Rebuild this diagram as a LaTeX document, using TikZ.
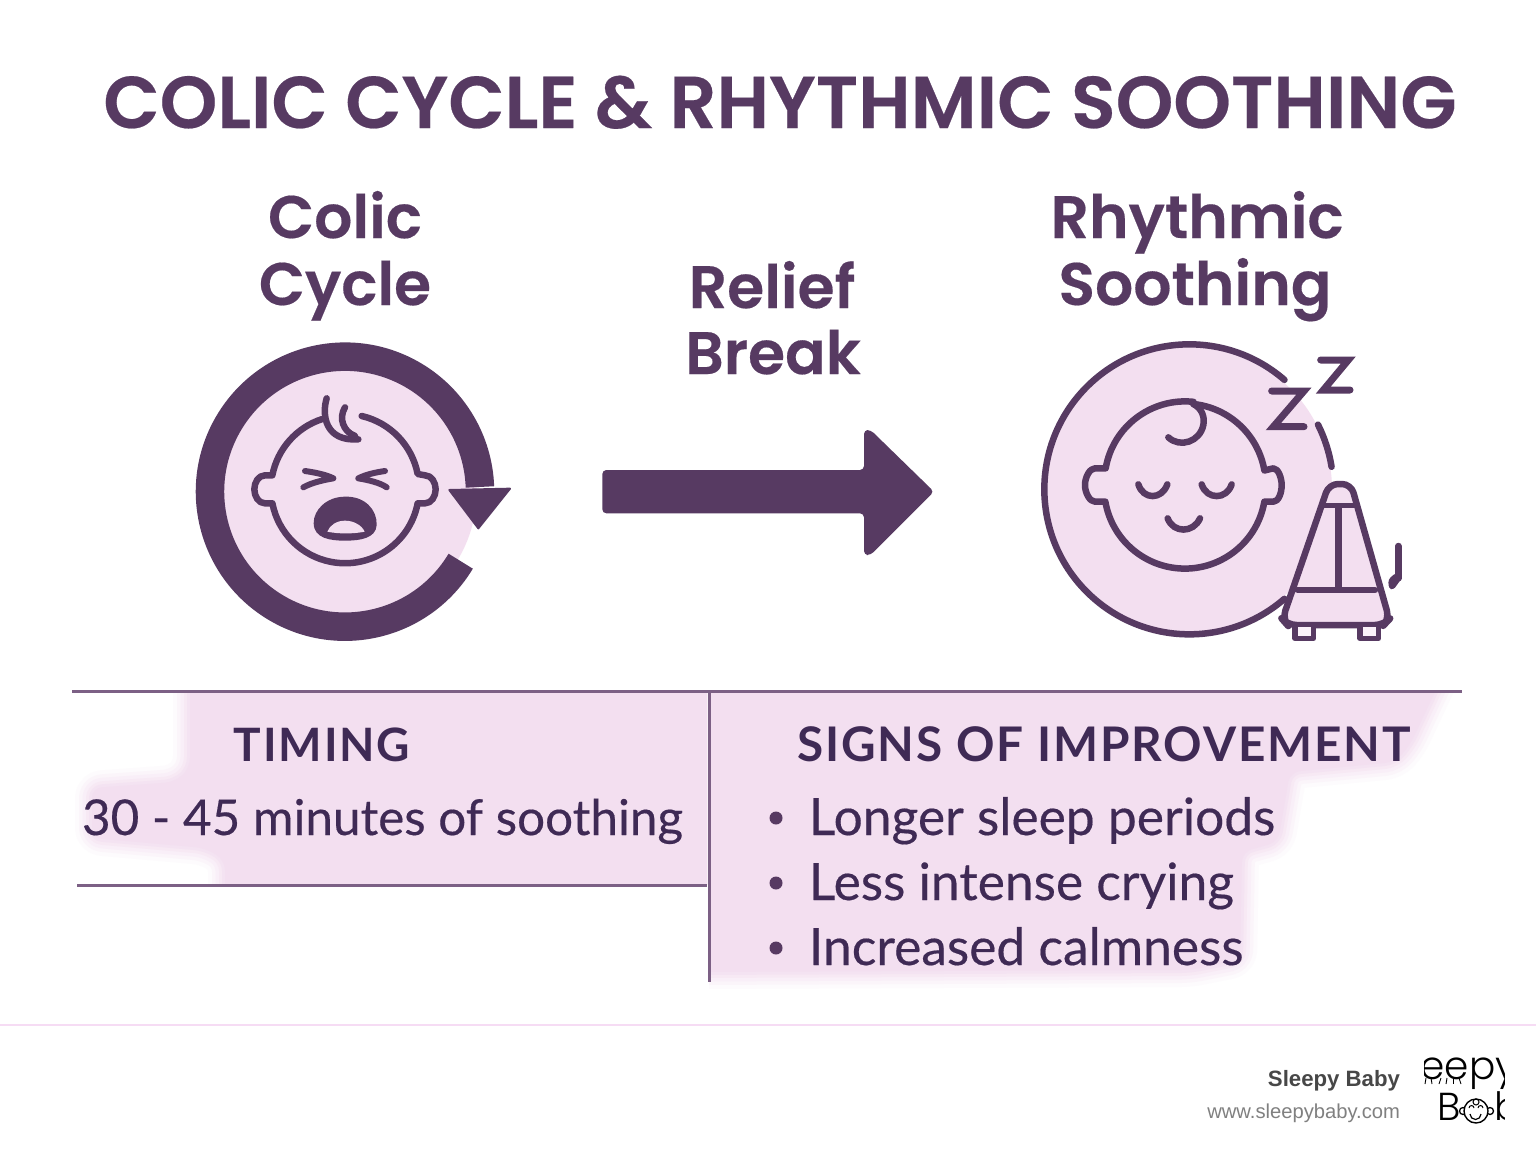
\documentclass[tikz,border=0pt]{standalone}
\usepackage{fontspec}
\setmainfont{Lato}
\newfontfamily\headfont{Poppins SemiBold}[FakeBold=0.3]
\newfontfamily\tablehead{Lato}[LetterSpace=4]
\newfontfamily\footfont{Liberation Sans}
\newfontfamily\logofont{Poppins Light}
\definecolor{plum}{HTML}{573A62}
\definecolor{inkdark}{HTML}{3F2A55}
\definecolor{blush}{HTML}{F3DFF0}
\definecolor{rulecol}{HTML}{7C6085}
\definecolor{pinkrule}{HTML}{F6DCF4}
\tikzset{
  every node/.style={inner sep=0pt,outer sep=0pt},
  maintitle/.style={anchor=base,text=plum,font=\headfont\fontsize{73.4}{75}\selectfont},
  heading/.style={anchor=base,text=plum,font=\headfont\fontsize{60}{60}\selectfont},
  tabhead/.style={anchor=base,text=inkdark,font=\tablehead\bfseries\fontsize{46}{46}\selectfont},
  tabtext/.style={anchor=base west,text=inkdark},
  bulletdot/.style={circle,fill=plum,minimum size=13pt},
  iconline/.style={draw=plum,line width=6.5pt,line cap=round,line join=round},
  thinline/.style={draw=plum,line width=6.5pt,line cap=round,line join=round},
  tablerule/.style={draw=rulecol,line width=3pt},
}
\newfontfamily\bodyfont{Lato}[FakeBold=0.35]
\newcommand{\softfill}[1]{%
  \draw[draw=blush!14,line width=34pt,line join=round,fill=blush!14,rounded corners=10pt] #1 -- cycle;
  \draw[draw=blush!30,line width=26pt,line join=round,fill=blush!30,rounded corners=10pt] #1 -- cycle;
  \draw[draw=blush!50,line width=19pt,line join=round,fill=blush!50,rounded corners=10pt] #1 -- cycle;
  \draw[draw=blush!70,line width=12pt,line join=round,fill=blush!70,rounded corners=10pt] #1 -- cycle;
  \draw[draw=blush!88,line width=6pt,line join=round,fill=blush!88,rounded corners=10pt] #1 -- cycle;
  \fill[blush,rounded corners=10pt] #1 -- cycle;
}
\begin{document}
\begin{tikzpicture}[x=1pt,y=-1pt]
\useasboundingbox (0,0) rectangle (1536,1154);
\fill[white] (0,0) rectangle (1536,1154);

% titles
\node[maintitle] (title) at (780,128) {COLIC CYCLE \& RHYTHMIC SOOTHING};
\node[heading] (colic1) at (345,238) {Colic};
\node[heading] (colic2) at (345,305) {Cycle};
\node[heading] (relief1) at (772,308) {Relief};
\node[heading] (relief2) at (773,374) {Break};
\node[heading] (rhythm1) at (1197,238) {Rhythmic};
\node[heading] (rhythm2) at (1195,305) {Soothing};

% left icon
\begin{scope}[xshift=170pt,yshift=-330pt,scale=1/3]
  \fill[blush] (525,485) circle[radius=395];
  \draw[plum,line width=28.5pt] (525,485) ++(31:405) arc[start angle=31,end angle=358,radius=405];
  \fill[plum,draw=plum,line width=2pt,line join=round] (838,480) -- (1020,476) -- (925,595) -- cycle;
  \draw[iconline] (575,258) arc[start angle=-77,end angle=-11,radius=222]
     -- (765,436) .. controls (785,436) and (797,458) .. (797,478)
     .. controls (797,498) and (785,520) .. (765,520) -- (743,520)
     arc[start angle=11,end angle=169,radius=222]
     -- (285,520) .. controls (265,520) and (253,498) .. (253,478)
     .. controls (253,458) and (265,436) .. (285,436) -- (307,436)
     arc[start angle=191,end angle=252,radius=222];
  \draw[iconline] (470,205) .. controls (455,255) and (465,335) .. (565,328);
  \draw[iconline] (525,232) .. controls (505,265) and (520,305) .. (555,318);
  \draw[iconline,line width=6pt] (405,423) .. controls (440,428) and (470,435) .. (490,445) .. controls (460,450) and (425,458) .. (400,472);
  \draw[iconline,line width=6pt] (645,423) .. controls (610,428) and (585,435) .. (565,445) .. controls (595,450) and (630,458) .. (650,472);
  \fill[plum] (525,500) .. controls (585,498) and (622,540) .. (620,585)
     .. controls (618,625) and (570,632) .. (525,632)
     .. controls (480,632) and (432,625) .. (431,580)
     .. controls (430,540) and (470,500) .. (525,500) -- cycle;
  \fill[blush] (472,605) .. controls (480,585) and (500,572) .. (525,572)
     .. controls (550,572) and (575,585) .. (584,605)
     .. controls (550,612) and (505,612) .. (472,605) -- cycle;
\end{scope}

% arrow
\begin{scope}[xshift=590pt,yshift=-250pt,scale=1/3]
  \fill[plum,rounded corners=4pt] (37,660) -- (822,660) -- (822,540) -- (842,540) -- (1032,725) -- (842,915) -- (822,915) -- (822,790) -- (37,790) -- cycle;
\end{scope}

% right icon
\begin{scope}[xshift=1030pt,yshift=-330pt,scale=1/3]
  \fill[blush] (478,478) circle[radius=428];
  \fill[blush,line join=round] (897,462) -- (963,462) -- (1078,868) -- (1062,885) -- (772,885) -- (757,868) -- cycle;
  \draw[thinline] (478,478) ++(-49:435) arc[start angle=-49,end angle=-311,radius=435];
  \draw[thinline] (478,478) ++(-26.7:432) arc[start angle=-26.7,end angle=-9,radius=432];
  \draw[iconline] (490,222) arc[start angle=-84,end angle=-9.8,radius=242] -- (730,415)
    .. controls (745,415) and (755,445) .. (755,465) .. controls (755,490) and (745,515) .. (730,515) -- (703,515)
    arc[start angle=9.8,end angle=170.2,radius=242] -- (195,515)
    .. controls (180,515) and (165,490) .. (165,465) .. controls (165,440) and (180,415) .. (195,415) -- (227,415)
    arc[start angle=-170.2,end angle=-84,radius=242];
  \draw[iconline] (490,222) .. controls (515,235) and (525,260) .. (520,285) .. controls (510,335) and (450,355) .. (415,322);
  \draw[iconline] (325,463) .. controls (340,510) and (395,510) .. (412,463);
  \draw[iconline] (515,463) .. controls (530,510) and (590,510) .. (605,463);
  \draw[iconline] (413,565) .. controls (430,610) and (490,610) .. (510,565);
  \draw[thinline,line width=7pt,line join=miter] (725,183) -- (822,183) -- (730,290) -- (822,290);
  \draw[thinline,line width=7pt,line join=miter] (872,90) -- (955,90) -- (880,180) -- (960,180);
  \draw[thinline,rounded corners=9pt] (897,462) -- (963,462) -- (1078,868) -- (1062,885) -- (772,885) -- (757,868) -- cycle;
  \draw[thinline,line width=5pt] (880,527) -- (975,527);
  \draw[draw=plum,line width=7pt] (925,527) -- (925,780);
  \draw[thinline] (803,780) -- (1035,780);
  \draw[thinline,line width=5.5pt,fill=blush!40] (795,890) -- (795,925) -- (850,925) -- (850,890);
  \draw[thinline,line width=5.5pt,fill=blush!40] (990,890) -- (990,925) -- (1045,925) -- (1045,890);
  \draw[thinline] (1105,648) -- (1105,745);
  \fill[plum,rounded corners=3pt] (1075,748) -- (1098,728) -- (1115,745) -- (1090,780) -- (1076,775) -- cycle;
\end{scope}

% table background
\begin{scope}
  \clip (0,693) rectangle (707,884);
  \softfill{(190,660) -- (190,768) -- (175,782) -- (92,788) -- (92,838) -- (205,848) -- (225,860) -- (225,920) -- (740,920) -- (740,660)}
\end{scope}
\begin{scope}
  \clip (709,693) rectangle (1536,1010);
  \softfill{(690,660) -- (1450,660) -- (1410,745) -- (1395,762) -- (1290,772) -- (1278,842) -- (1242,852) -- (1240,960) -- (1190,970) -- (690,972)}
\end{scope}
\draw[tablerule] (72,691) -- (1462,691);
\draw[tablerule] (77,885) -- (707,885);
\draw[tablerule] (709,692) -- (709,982);

% table text
\node[tabhead] (timing) at (322,761) {TIMING};
\node[tabhead,font=\tablehead\bfseries\fontsize{47.7}{48}\selectfont] (signs) at (1104,761) {SIGNS OF IMPROVEMENT};
\node[tabtext,font=\bodyfont\fontsize{49.4}{50}\selectfont] (duration) at (82,835) {30 - 45 minutes of soothing};
\node[bulletdot] (b1) at (776,818) {};
\node[bulletdot] (b2) at (776,883) {};
\node[bulletdot] (b3) at (776,948) {};
\node[tabtext,font=\bodyfont\fontsize{51.5}{52}\selectfont] (item1) at (809,835) {Longer sleep periods};
\node[tabtext,font=\bodyfont\fontsize{51.5}{52}\selectfont] (item2) at (809,900) {Less intense crying};
\node[tabtext,font=\bodyfont\fontsize{51.5}{52}\selectfont] (item3) at (809,965) {Increased calmness};

% footer
\draw[pinkrule,line width=2.5pt] (0,1025) -- (1536,1025);
\node[anchor=base east,text=black!72,font=\footfont\bfseries\fontsize{22.2}{24}\selectfont] (brand) at (1400,1086) {Sleepy Baby};
\node[anchor=base east,text=black!50,font=\footfont\fontsize{20.2}{22}\selectfont] (url) at (1400,1118) {www.sleepybaby.com};

% logo
\begin{scope}
  \clip (1424,1050) rectangle (1504,1125);
  \node[anchor=base,text=black,font=\logofont\fontsize{39}{39}\selectfont] (logo1) at (1453,1079) {Sleepy};
  \node[anchor=base west,text=black,font=\logofont\fontsize{39}{39}\selectfont] (logoB) at (1437,1120) {B};
  \node[anchor=base west,text=black,font=\logofont\fontsize{39}{39}\selectfont] (logob) at (1494,1120) {b};
  \draw[black,line width=1.3pt,fill=white] (1463,1111) circle[radius=3.5];
  \draw[black,line width=1.3pt,fill=white] (1490,1111) circle[radius=3.5];
  \draw[black,line width=1.4pt,fill=white] (1476,1111) circle[radius=12];
  \draw[black,line width=1pt] (1469,1108) arc[start angle=180,end angle=360,radius=2.5];
  \draw[black,line width=1pt] (1478,1108) arc[start angle=180,end angle=360,radius=2.5];
  \draw[black,line width=1.2pt] (1470,1114) arc[start angle=180,end angle=0,radius=5.5];
  \draw[black,line width=1pt] (1476,1102) circle[radius=3];
  \foreach \lx/\dx in {1426/-1,1431/1,1441/-2,1447/-1,1453/0,1459/2}{
    \draw[black,line width=0.9pt] (\lx,1078) -- ++(\dx,6);
  }
\end{scope}
\end{tikzpicture}
\end{document}
